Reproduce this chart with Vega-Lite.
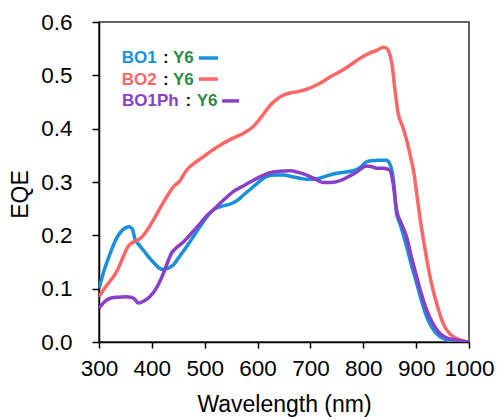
{
  "$schema": "https://vega.github.io/schema/vega-lite/v6.json",
  "width": 370,
  "height": 320,
  "autosize": "none",
  "padding": {"left": 99, "top": 22, "right": 28, "bottom": 77},
  "background": "white",
  "config": {
    "font": "Liberation Sans",
    "view": {"stroke": "#333333", "strokeWidth": 1.5},
    "axis": {"grid": false, "domainColor": "#000000", "domainWidth": 1.5, "tickColor": "#000000", "tickWidth": 1.5, "labelColor": "#000000", "titleColor": "#000000", "titleFontWeight": "normal", "labelFont": "Liberation Sans", "titleFont": "Liberation Sans"}
  },
  "datasets": {
    "curves": [
      {"s":"BO1","wl":300,"eqe":0.100},{"s":"BO1","wl":310,"eqe":0.135},{"s":"BO1","wl":320,"eqe":0.163},{"s":"BO1","wl":330,"eqe":0.188},{"s":"BO1","wl":340,"eqe":0.205},{"s":"BO1","wl":350,"eqe":0.214},{"s":"BO1","wl":357,"eqe":0.216},{"s":"BO1","wl":363,"eqe":0.212},{"s":"BO1","wl":368,"eqe":0.193},{"s":"BO1","wl":375,"eqe":0.183},{"s":"BO1","wl":384,"eqe":0.172},{"s":"BO1","wl":395,"eqe":0.158},{"s":"BO1","wl":405,"eqe":0.147},{"s":"BO1","wl":415,"eqe":0.138},{"s":"BO1","wl":422,"eqe":0.136},{"s":"BO1","wl":432,"eqe":0.139},{"s":"BO1","wl":441,"eqe":0.145},{"s":"BO1","wl":452,"eqe":0.160},{"s":"BO1","wl":466,"eqe":0.179},{"s":"BO1","wl":478,"eqe":0.197},{"s":"BO1","wl":491,"eqe":0.216},{"s":"BO1","wl":503,"eqe":0.233},{"s":"BO1","wl":516,"eqe":0.2475},{"s":"BO1","wl":530,"eqe":0.254},{"s":"BO1","wl":543,"eqe":0.257},{"s":"BO1","wl":554,"eqe":0.261},{"s":"BO1","wl":565,"eqe":0.268},{"s":"BO1","wl":575,"eqe":0.277},{"s":"BO1","wl":586,"eqe":0.286},{"s":"BO1","wl":600,"eqe":0.298},{"s":"BO1","wl":617,"eqe":0.310},{"s":"BO1","wl":633,"eqe":0.313},{"s":"BO1","wl":649,"eqe":0.313},{"s":"BO1","wl":665,"eqe":0.310},{"s":"BO1","wl":680,"eqe":0.307},{"s":"BO1","wl":693,"eqe":0.305},{"s":"BO1","wl":705,"eqe":0.305},{"s":"BO1","wl":720,"eqe":0.308},{"s":"BO1","wl":733,"eqe":0.312},{"s":"BO1","wl":743,"eqe":0.315},{"s":"BO1","wl":760,"eqe":0.318},{"s":"BO1","wl":781,"eqe":0.321},{"s":"BO1","wl":795,"eqe":0.328},{"s":"BO1","wl":806,"eqe":0.338},{"s":"BO1","wl":815,"eqe":0.340},{"s":"BO1","wl":831,"eqe":0.341},{"s":"BO1","wl":844,"eqe":0.341},{"s":"BO1","wl":850,"eqe":0.334},{"s":"BO1","wl":854,"eqe":0.322},{"s":"BO1","wl":858,"eqe":0.295},{"s":"BO1","wl":863,"eqe":0.241},{"s":"BO1","wl":870,"eqe":0.220},{"s":"BO1","wl":882,"eqe":0.179},{"s":"BO1","wl":891,"eqe":0.145},{"s":"BO1","wl":901,"eqe":0.110},{"s":"BO1","wl":910,"eqe":0.078},{"s":"BO1","wl":920,"eqe":0.047},{"s":"BO1","wl":930,"eqe":0.027},{"s":"BO1","wl":945,"eqe":0.010},{"s":"BO1","wl":958,"eqe":0.004},{"s":"BO1","wl":970,"eqe":0.002},{"s":"BO1","wl":985,"eqe":0.001},{"s":"BO1","wl":1000,"eqe":0.000},
      {"s":"BO2","wl":300,"eqe":0.085},{"s":"BO2","wl":310,"eqe":0.100},{"s":"BO2","wl":320,"eqe":0.113},{"s":"BO2","wl":327,"eqe":0.122},{"s":"BO2","wl":335,"eqe":0.135},{"s":"BO2","wl":345,"eqe":0.158},{"s":"BO2","wl":355,"eqe":0.179},{"s":"BO2","wl":366,"eqe":0.188},{"s":"BO2","wl":378,"eqe":0.194},{"s":"BO2","wl":390,"eqe":0.208},{"s":"BO2","wl":403,"eqe":0.229},{"s":"BO2","wl":415,"eqe":0.250},{"s":"BO2","wl":428,"eqe":0.272},{"s":"BO2","wl":440,"eqe":0.290},{"s":"BO2","wl":453,"eqe":0.302},{"s":"BO2","wl":466,"eqe":0.3225},{"s":"BO2","wl":480,"eqe":0.335},{"s":"BO2","wl":497,"eqe":0.347},{"s":"BO2","wl":512,"eqe":0.358},{"s":"BO2","wl":529,"eqe":0.369},{"s":"BO2","wl":545,"eqe":0.378},{"s":"BO2","wl":560,"eqe":0.385},{"s":"BO2","wl":576,"eqe":0.393},{"s":"BO2","wl":592,"eqe":0.404},{"s":"BO2","wl":608,"eqe":0.423},{"s":"BO2","wl":624,"eqe":0.444},{"s":"BO2","wl":636,"eqe":0.455},{"s":"BO2","wl":649,"eqe":0.463},{"s":"BO2","wl":662,"eqe":0.467},{"s":"BO2","wl":674,"eqe":0.469},{"s":"BO2","wl":687,"eqe":0.472},{"s":"BO2","wl":699,"eqe":0.476},{"s":"BO2","wl":718,"eqe":0.485},{"s":"BO2","wl":737,"eqe":0.497},{"s":"BO2","wl":756,"eqe":0.507},{"s":"BO2","wl":775,"eqe":0.519},{"s":"BO2","wl":794,"eqe":0.532},{"s":"BO2","wl":813,"eqe":0.542},{"s":"BO2","wl":826,"eqe":0.547},{"s":"BO2","wl":838,"eqe":0.5525},{"s":"BO2","wl":845,"eqe":0.550},{"s":"BO2","wl":849,"eqe":0.543},{"s":"BO2","wl":854,"eqe":0.5225},{"s":"BO2","wl":860,"eqe":0.4725},{"s":"BO2","wl":866,"eqe":0.429},{"s":"BO2","wl":874,"eqe":0.405},{"s":"BO2","wl":882,"eqe":0.379},{"s":"BO2","wl":890,"eqe":0.345},{"s":"BO2","wl":895,"eqe":0.322},{"s":"BO2","wl":901,"eqe":0.279},{"s":"BO2","wl":907,"eqe":0.235},{"s":"BO2","wl":914,"eqe":0.191},{"s":"BO2","wl":921,"eqe":0.150},{"s":"BO2","wl":929,"eqe":0.110},{"s":"BO2","wl":940,"eqe":0.068},{"s":"BO2","wl":951,"eqe":0.035},{"s":"BO2","wl":963,"eqe":0.016},{"s":"BO2","wl":976,"eqe":0.007},{"s":"BO2","wl":990,"eqe":0.002},{"s":"BO2","wl":1000,"eqe":0.000},
      {"s":"BO1Ph","wl":300,"eqe":0.063},{"s":"BO1Ph","wl":310,"eqe":0.075},{"s":"BO1Ph","wl":321,"eqe":0.082},{"s":"BO1Ph","wl":335,"eqe":0.084},{"s":"BO1Ph","wl":350,"eqe":0.085},{"s":"BO1Ph","wl":360,"eqe":0.084},{"s":"BO1Ph","wl":368,"eqe":0.080},{"s":"BO1Ph","wl":374,"eqe":0.073},{"s":"BO1Ph","wl":385,"eqe":0.077},{"s":"BO1Ph","wl":396,"eqe":0.085},{"s":"BO1Ph","wl":408,"eqe":0.100},{"s":"BO1Ph","wl":419,"eqe":0.122},{"s":"BO1Ph","wl":428,"eqe":0.145},{"s":"BO1Ph","wl":437,"eqe":0.166},{"s":"BO1Ph","wl":448,"eqe":0.178},{"s":"BO1Ph","wl":460,"eqe":0.188},{"s":"BO1Ph","wl":475,"eqe":0.204},{"s":"BO1Ph","wl":491,"eqe":0.222},{"s":"BO1Ph","wl":503,"eqe":0.236},{"s":"BO1Ph","wl":516,"eqe":0.2475},{"s":"BO1Ph","wl":529,"eqe":0.260},{"s":"BO1Ph","wl":541,"eqe":0.271},{"s":"BO1Ph","wl":554,"eqe":0.282},{"s":"BO1Ph","wl":570,"eqe":0.291},{"s":"BO1Ph","wl":586,"eqe":0.300},{"s":"BO1Ph","wl":605,"eqe":0.310},{"s":"BO1Ph","wl":624,"eqe":0.3175},{"s":"BO1Ph","wl":642,"eqe":0.320},{"s":"BO1Ph","wl":661,"eqe":0.321},{"s":"BO1Ph","wl":677,"eqe":0.318},{"s":"BO1Ph","wl":693,"eqe":0.313},{"s":"BO1Ph","wl":708,"eqe":0.306},{"s":"BO1Ph","wl":724,"eqe":0.299},{"s":"BO1Ph","wl":740,"eqe":0.299},{"s":"BO1Ph","wl":756,"eqe":0.3025},{"s":"BO1Ph","wl":772,"eqe":0.310},{"s":"BO1Ph","wl":788,"eqe":0.319},{"s":"BO1Ph","wl":806,"eqe":0.330},{"s":"BO1Ph","wl":815,"eqe":0.329},{"s":"BO1Ph","wl":825,"eqe":0.3256},{"s":"BO1Ph","wl":838,"eqe":0.326},{"s":"BO1Ph","wl":850,"eqe":0.3225},{"s":"BO1Ph","wl":856,"eqe":0.300},{"s":"BO1Ph","wl":863,"eqe":0.2475},{"s":"BO1Ph","wl":872,"eqe":0.222},{"s":"BO1Ph","wl":882,"eqe":0.197},{"s":"BO1Ph","wl":891,"eqe":0.160},{"s":"BO1Ph","wl":901,"eqe":0.1225},{"s":"BO1Ph","wl":910,"eqe":0.090},{"s":"BO1Ph","wl":920,"eqe":0.060},{"s":"BO1Ph","wl":932,"eqe":0.034},{"s":"BO1Ph","wl":945,"eqe":0.016},{"s":"BO1Ph","wl":960,"eqe":0.007},{"s":"BO1Ph","wl":976,"eqe":0.004},{"s":"BO1Ph","wl":990,"eqe":0.001},{"s":"BO1Ph","wl":1000,"eqe":0.000}
    ],
    "labels": [
      {"k":"BO1","t":"BO1","wl":343,"eqe":0.532},
      {"k":"sep","t":":","wl":421,"eqe":0.532},
      {"k":"Y6","t":"Y6","wl":440,"eqe":0.532},
      {"k":"BO2","t":"BO2","wl":343,"eqe":0.491},
      {"k":"sep","t":":","wl":421,"eqe":0.491},
      {"k":"Y6","t":"Y6","wl":440,"eqe":0.491},
      {"k":"BO1Ph","t":"BO1Ph","wl":343.5,"eqe":0.451},
      {"k":"sep","t":":","wl":463.5,"eqe":0.451},
      {"k":"Y6","t":"Y6","wl":484.8,"eqe":0.451}
    ],
    "samples": [
      {"k":"BO1","wl":489,"wl2":525,"eqe":0.5325},
      {"k":"BO2","wl":489,"wl2":525,"eqe":0.493},
      {"k":"BO1Ph","wl":533,"wl2":565,"eqe":0.452}
    ]
  },
  "layer": [
    {
      "data": {"name": "curves"},
      "mark": {"type": "line", "strokeWidth": 3.5, "interpolate": "monotone", "clip": true},
      "encoding": {
        "x": {"field": "wl", "type": "quantitative", "scale": {"domain": [300, 1000], "nice": false, "zero": false},
              "axis": {"values": [300,400,500,600,700,800,900,1000], "format": "d", "title": "Wavelength (nm)", "labelFontSize": 22.5, "titleFontSize": 23, "tickSize": 6, "labelPadding": 9, "titlePadding": 14, "labelFlush": false}},
        "y": {"field": "eqe", "type": "quantitative", "scale": {"domain": [0, 0.6], "nice": false},
              "axis": {"values": [0,0.1,0.2,0.3,0.4,0.5,0.6], "format": ".1f", "title": "EQE", "labelFontSize": 22.5, "titleFontSize": 23, "tickSize": 7, "labelPadding": 20, "titlePadding": 8, "titleY": 172}},
        "color": {"field": "s", "type": "nominal", "scale": {"domain": ["BO1","BO2","BO1Ph","sep","Y6"], "range": ["#1a8fdc","#ff6666","#8a3fc8","#111111","#2a8c4a"]}, "legend": null},
        "detail": {"field": "s"},
        "order": {"field": "wl", "type": "quantitative"}
      }
    },
    {
      "data": {"name": "samples"},
      "mark": {"type": "rule", "strokeWidth": 3.5},
      "encoding": {
        "x": {"field": "wl", "type": "quantitative"},
        "x2": {"field": "wl2"},
        "y": {"field": "eqe", "type": "quantitative"},
        "color": {"field": "k", "type": "nominal", "legend": null}
      }
    },
    {
      "data": {"name": "labels"},
      "mark": {"type": "text", "align": "left", "baseline": "middle", "fontSize": 17, "fontWeight": "bold", "font": "Liberation Sans"},
      "encoding": {
        "x": {"field": "wl", "type": "quantitative"},
        "y": {"field": "eqe", "type": "quantitative"},
        "text": {"field": "t"},
        "color": {"field": "k", "type": "nominal", "legend": null}
      }
    }
  ]
}
